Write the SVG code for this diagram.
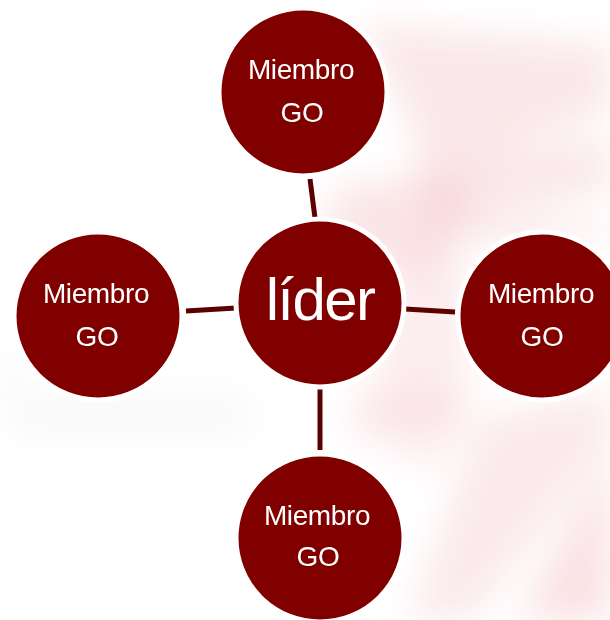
<svg xmlns="http://www.w3.org/2000/svg" width="610" height="620" viewBox="0 0 610 620">
<style>
.n{fill:#800000;stroke:#fff;stroke-width:5}
.c{stroke:#5c0000;stroke-width:5;fill:none}
.m{font-family:"Liberation Sans",Arial,sans-serif;font-size:28px;fill:#fff;text-anchor:middle;letter-spacing:-.4px}
.l{font-family:"Liberation Sans",Arial,sans-serif;font-size:60px;fill:#fff;text-anchor:middle;letter-spacing:-1.6px}
.p{fill:#f5c9ce}
.g{fill:#ededed}
</style>
<defs>
<filter id="b" x="-30%" y="-30%" width="160%" height="160%"><feGaussianBlur stdDeviation="18"/></filter>
</defs>
<rect width="610" height="620" fill="#fff"/>
<g id="background" filter="url(#b)">
<path class="p" opacity=".45" d="M360 25L610 45V110L500 150L610 140V190L480 215L610 225V240H430L410 120Z"/>
<path class="p" opacity=".5" d="M330 190L470 170L460 230L420 280L330 240Z"/>
<path class="p" opacity=".35" d="M400 250H465V420H370Z"/>
<path class="p" opacity=".35" d="M350 395H470L440 470L350 430Z"/>
<path class="p" opacity=".4" d="M480 420L610 390V440L470 620H410Z"/>
<path class="p" opacity=".55" d="M610 450V620H520Z"/>
<rect class="g" opacity=".4" x="10" y="395" width="240" height="40"/>
<rect class="g" opacity=".3" x="0" y="350" width="25" height="50"/>
</g>
<g id="connectors">
<line class="c" x1="310" y1="179" x2="315" y2="218"/>
<line class="c" x1="186" y1="311" x2="236" y2="308"/>
<line class="c" x1="405" y1="309" x2="455" y2="312"/>
<line class="c" x1="320" y1="388" x2="320" y2="450"/>
</g>
<g id="node-top">
<circle class="n" cx="303" cy="92" r="84"/>
<text class="m" x="301" y="79">Miembro</text>
<text class="m" x="302" y="122">GO</text>
</g>
<g id="node-left">
<circle class="n" cx="98" cy="316" r="84"/>
<text class="m" x="96" y="303">Miembro</text>
<text class="m" x="97" y="346">GO</text>
</g>
<g id="node-center">
<circle class="n" cx="320" cy="303" r="84"/>
<text class="l" x="320" y="320">líder</text>
</g>
<g id="node-right">
<circle class="n" cx="542" cy="316" r="84"/>
<text class="m" x="541" y="303">Miembro</text>
<text class="m" x="542" y="346">GO</text>
</g>
<g id="node-bottom">
<circle class="n" cx="320" cy="538" r="84"/>
<text class="m" x="317" y="525">Miembro</text>
<text class="m" x="318" y="566">GO</text>
</g>
</svg>
